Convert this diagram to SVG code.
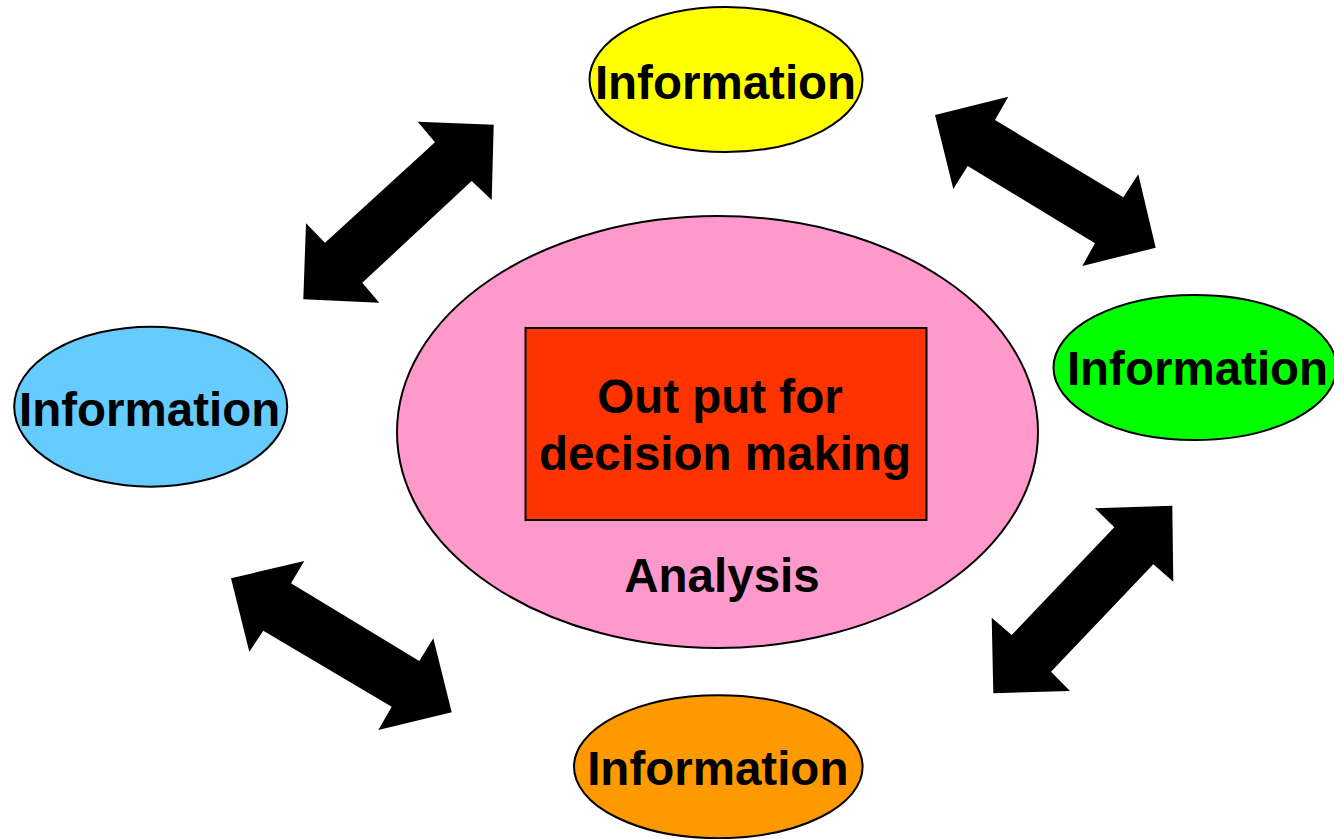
<svg xmlns="http://www.w3.org/2000/svg" width="1334" height="839" viewBox="0 0 1334 839">
<style>
.t{font-family:"Liberation Sans",Arial,sans-serif;font-weight:bold;font-size:47.5px;fill:#000;text-anchor:middle}
.e{stroke:#000;stroke-width:2}
.arr{fill:#000;stroke:none}
</style>
<rect width="1334" height="839" fill="#fff"/>
<g id="analysis">
<ellipse class="e" cx="717.5" cy="432" rx="320.5" ry="216" fill="#FF99CC"/>
<text class="t" x="722" y="591.5">Analysis</text>
</g>
<g id="output">
<rect x="525.5" y="328" width="401" height="192" fill="#FF3300" stroke="#000" stroke-width="2"/>
<text class="t" x="720" y="413">Out put for</text>
<text class="t" x="725" y="470">decision making</text>
</g>
<g id="info-top">
<ellipse class="e" cx="726" cy="79.5" rx="136.5" ry="72.5" fill="#FFFF00"/>
<text class="t" x="725.5" y="99">Information</text>
</g>
<g id="info-right">
<ellipse class="e" cx="1195" cy="367.5" rx="141.5" ry="72.5" fill="#00FF00"/>
<text class="t" x="1197.5" y="385">Information</text>
</g>
<g id="info-left">
<ellipse class="e" cx="150.7" cy="406.7" rx="136.5" ry="80" fill="#66CCFF"/>
<text class="t" x="149.7" y="426">Information</text>
</g>
<g id="info-bottom">
<ellipse class="e" cx="718.3" cy="766.7" rx="144.3" ry="71.5" fill="#FF9900"/>
<text class="t" x="717.8" y="785">Information</text>
</g>
<g id="connectors">
<polygon class="arr" points="493.7,124.7 491.7,200 471.7,181 362.3,282.7 379.3,302.7 303.3,299.3 306,223.3 325,242.7 435,142.3 417.7,121.7"/>
<polygon class="arr" points="935,115 1008.3,96.7 995,120 1123.3,197.3 1138.3,174.3 1155.7,247.7 1082.3,266 1095,243.3 967.7,166 953.3,189"/>
<polygon class="arr" points="231,578.3 304.3,561 291,583.3 419.3,661 433.3,638.3 451.7,712.3 378.3,730 391.7,706.7 263.3,630.7 249.3,651.7"/>
<polygon class="arr" points="1172.3,505.7 1173.3,581.7 1153.3,564.3 1051,671.7 1070,691 993.3,693.3 991.7,617.7 1011.7,635 1114.3,527.3 1095,508.3"/>
</g>
</svg>
